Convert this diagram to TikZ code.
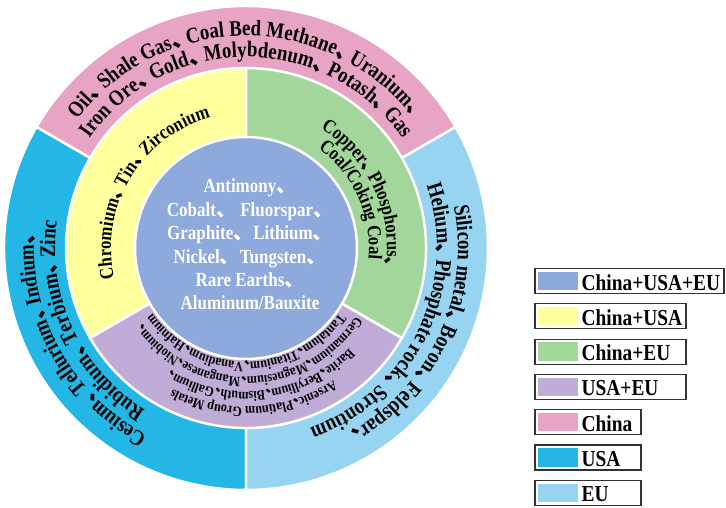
\documentclass[tikz,border=0pt]{standalone}
\usepackage{fontspec}
\usepackage{graphicx}
\setmainfont{Liberation Serif}[FakeStretch=0.85]
\newfontfamily\cjk{Noto Sans CJK SC}
\usetikzlibrary{calc}
\definecolor{cAll}{RGB}{142,169,219}
\definecolor{cCU}{RGB}{255,255,158}
\definecolor{cCE}{RGB}{162,214,154}
\definecolor{cUE}{RGB}{192,172,214}
\definecolor{cC}{RGB}{232,164,196}
\definecolor{cU}{RGB}{36,182,228}
\definecolor{cE}{RGB}{150,212,242}
\definecolor{legline}{RGB}{50,50,50}
\newsavebox\dnBase \newsavebox\dnA \newsavebox\dnB \newsavebox\dnC \newsavebox\dnD
\newsavebox\arccharbox
\protected\def\dA{\copy\dnA}
\protected\def\dB{\copy\dnB}
\protected\def\dC{\copy\dnC}
\protected\def\ideo{\copy\dnD}
\protected\def\fA{\fontsize{22.2}{22.2}\selectfont\bfseries}
\protected\def\fB{\fontsize{19.6}{19.6}\selectfont\bfseries}
\protected\def\fC{\fontsize{14.2}{14.2}\selectfont\bfseries}
\newcommand\placechar[2]{\node[inner sep=0pt,anchor=base,rotate=#1-90] at ($(C)+(#1:#2pt)$) {\usebox\arccharbox};}
\ExplSyntaxOn
\box_new:N \l__arc_box
\dim_new:N \l__arc_total_dim
\dim_new:N \l__arc_pos_dim
\fp_new:N \l__arc_ang_fp
\cs_new_protected:Npn \arctext #1#2#3#4
  {
    \dim_zero:N \l__arc_total_dim
    \tl_map_inline:nn {#4}
      {
        \hbox_set:Nn \l__arc_box { \pgfinterruptpicture #3 ##1 \endpgfinterruptpicture }
        \dim_add:Nn \l__arc_total_dim { \box_wd:N \l__arc_box }
      }
    \dim_zero:N \l__arc_pos_dim
    \tl_map_inline:nn {#4}
      {
        \hbox_set:Nn \arccharbox { \pgfinterruptpicture #3 ##1 \endpgfinterruptpicture }
        \fp_set:Nn \l__arc_ang_fp
          { (#2) + ( \dim_to_fp:n { \l__arc_total_dim } / 2 - \dim_to_fp:n { \l__arc_pos_dim } - \dim_to_fp:n { \box_wd:N \arccharbox } / 2 ) / (#1) * 180 / pi }
        \exp_args:Nx \placechar { \fp_use:N \l__arc_ang_fp } {#1}
        \dim_add:Nn \l__arc_pos_dim { \box_wd:N \arccharbox }
      }
  }
\ExplSyntaxOff
\tikzset{
  sector/.style={draw=white,line width=2.5pt},
  legbox/.style={draw=legline,line width=1.2pt},
  legtext/.style={font=\fontsize{22.8}{22.8}\selectfont\bfseries,inner sep=0pt,anchor=base west},
}
\begin{document}
\begin{tikzpicture}[x=1pt,y=1pt]
\sbox\dnBase{\pgfinterruptpicture\cjk\bfseries 、\endpgfinterruptpicture}
\sbox\dnA{\makebox[15.5pt][l]{\scalebox{2.2}{\copy\dnBase}}}
\sbox\dnB{\makebox[13.5pt][l]{\scalebox{1.95}{\copy\dnBase}}}
\sbox\dnC{\makebox[6.5pt][l]{\scalebox{1.42}{\copy\dnBase}}}
\sbox\dnD{\pgfinterruptpicture\color{white}\scalebox{2.0}{\cjk\bfseries 、}\endpgfinterruptpicture}
\useasboundingbox (0,0) rectangle (726,507);
\coordinate (C) at (246,259);
% outer ring
\filldraw[sector,fill=cC] (C) -- ++(30:242pt) arc[start angle=30,end angle=150,radius=242pt] -- cycle;
\filldraw[sector,fill=cU] (C) -- ++(150:242pt) arc[start angle=150,end angle=270,radius=242pt] -- cycle;
\filldraw[sector,fill=cE] (C) -- ++(270:242pt) arc[start angle=270,end angle=390,radius=242pt] -- cycle;
% middle ring
\filldraw[sector,fill=cCU] (C) -- ++(90:180pt) arc[start angle=90,end angle=210,radius=180pt] -- cycle;
\filldraw[sector,fill=cUE] (C) -- ++(210:180pt) arc[start angle=210,end angle=330,radius=180pt] -- cycle;
\filldraw[sector,fill=cCE] (C) -- ++(-30:180pt) arc[start angle=-30,end angle=90,radius=180pt] -- cycle;
% core
\filldraw[sector,fill=cAll] (C) circle[radius=111pt];
\node[align=center,text=white,font=\fontsize{20}{23.4}\selectfont\bfseries] (core) at (250,262.5)
 {Antimony\ideo\\Cobalt\ideo{} Fluorspar\ideo\\Graphite\ideo Lithium\ideo\\Nickel\ideo Tungsten\ideo\\Rare Earths\ideo\\Aluminum/Bauxite};
% outer ring texts
\arctext{212}{90}{\fA}{Oil\dA Shale~Gas\dA Coal~Bed~Methane\dA Uranium\dA}
\arctext{191}{90}{\fA}{Iron~Ore\dA Gold\dA Molybdenum\dA Potash\dA Gas}
\arctext{212}{208.5}{\fA}{Cesium\dA Tellurium\dA Indium\dA}
\arctext{191}{205}{\fA}{Rubidium\dA Terbium\dA Zinc}
\arctext{212}{-25.4}{\fA}{Silicon~metal\dA Boron\dA Feldspar\dA}
\arctext{191}{-25.7}{\fA}{Helium\dA Phosphate~rock\dA Strontium}
% middle ring texts
\arctext{135}{149}{\fB}{Chromium\dB Tin\dB Zirconium}
\arctext{141}{24.4}{\fB}{Copper\dB Phosphorus\dB}
\arctext{123}{24.4}{\fB}{Coal/Coking~Coal}
\arctext{159}{273}{\fC}{Arsenic\dC Platinum~Group~Metals}
\arctext{144}{277}{\fC}{Barite\dC Beryllium\dC Bismuth\dC Gallium\dC}
\arctext{129}{272}{\fC}{Germanium\dC Magnesium\dC Manganese\dC Niobium\dC}
\arctext{114}{270}{\fC}{Tantalum\dC Titanium\dC Vanadium\dC Hafnium}
% legend
\foreach \k/\rx/\col/\lab in {0/724/cAll/China+USA+EU,1/686/cCU/China+USA,2/686/cCE/China+EU,3/686/cUE/USA+EU,4/641/cC/China,5/641/cU/USA,6/641/cE/EU}{
  \pgfmathsetmacro\tp{507-268.5-35.3*\k}
  \draw[legbox] (535,\tp) rectangle (\rx,\tp-25);
  \fill[\col] (537.5,\tp-3.3) rectangle (578,\tp-21.7);
  \node[legtext] (lg\k) at (581.5,\tp-21.5) {\lab};
}
\end{tikzpicture}
\end{document}
